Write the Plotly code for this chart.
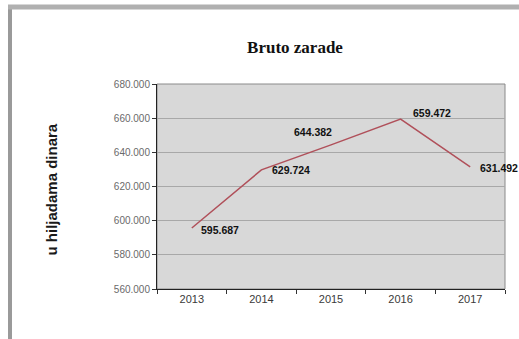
import plotly.graph_objects as go

# data (u hiljadama dinara)
years = ['2013', '2014', '2015', '2016', '2017']
bruto = [595687, 629724, 644382, 659472, 631492]
# label offsets (px) relative to each point
lab_dx = [28, 30, -18, 31, 29]
lab_dy = [-2, 0, 13, 6, -1]

W, H = 519, 339
L, R, T, B = 157, 505, 84, 289


def px(x):
    return (x - L) / (R - L)


def py(y):
    return (B - y) / (B - T)


fig = go.Figure()
fig.add_trace(go.Scatter(
    x=years, y=bruto, mode='lines',
    line=dict(color='#B0505A', width=1.5),
    showlegend=False, hoverinfo='skip',
))

# category axis: place labels by category index
for i, (v, dx, dy) in enumerate(zip(bruto, lab_dx, lab_dy)):
    fig.add_annotation(x=i, y=v, xref='x', yref='y', text=f'{v:,}'.replace(',', '.'), showarrow=False,
                       xshift=dx, yshift=dy, xanchor='center', yanchor='middle',
                       font=dict(family='Liberation Sans', size=10.5, color='#111111', weight='bold'))

# outer frame of the sheet
fig.add_shape(type='line', xref='paper', yref='paper', x0=px(10), x1=px(10), y0=py(7), y1=py(345),
              line=dict(color='#9a9a9a', width=4))
fig.add_shape(type='line', xref='paper', yref='paper', x0=px(8), x1=px(530), y0=py(7), y1=py(7),
              line=dict(color='#b0b0b0', width=5))
# plot border
fig.add_shape(type='rect', xref='paper', yref='paper', x0=0, x1=1, y0=0, y1=1,
              line=dict(color='#8a8a8a', width=1), layer='below')

fig.add_annotation(text='u hiljadama dinara', xref='paper', yref='paper', x=px(40), y=py(190),
                   textangle=-90, showarrow=False,
                   font=dict(family='Liberation Sans', size=15, color='#1a1a1a', weight='bold'))

fig.update_layout(
    width=W, height=H,
    margin=dict(l=L, r=W - R, t=T, b=H - B),
    paper_bgcolor='white', plot_bgcolor='#d8d8d8',
    separators=',.',
    title=dict(text='<b>Bruto zarade</b>', x=295 / W, xanchor='center', y=1 - 47 / H, yanchor='middle',
               font=dict(family='Liberation Serif', size=17, color='#111111')),
    xaxis=dict(type='category', tickson='boundaries', ticks='outside', ticklen=4, tickcolor='#333333',
               showline=True, linecolor='#222222', linewidth=1, showgrid=False,
               range=[-0.5, 4.5], fixedrange=True,
               tickfont=dict(family='Liberation Sans', size=11, color='#3a3a3a')),
    yaxis=dict(range=[560000, 680000], dtick=20000, tickformat=',', ticks='outside', ticklen=4,
               tickcolor='#333333', showline=True, linecolor='#222222', linewidth=1,
               gridcolor='#a8a8a8', gridwidth=1, zeroline=False,
               tickfont=dict(family='Liberation Sans', size=10, color='#6a6a6a')),
)

fig.write_html('out.html', config={'displayModeBar': False},
               post_script="document.body.style.margin='0px';")
